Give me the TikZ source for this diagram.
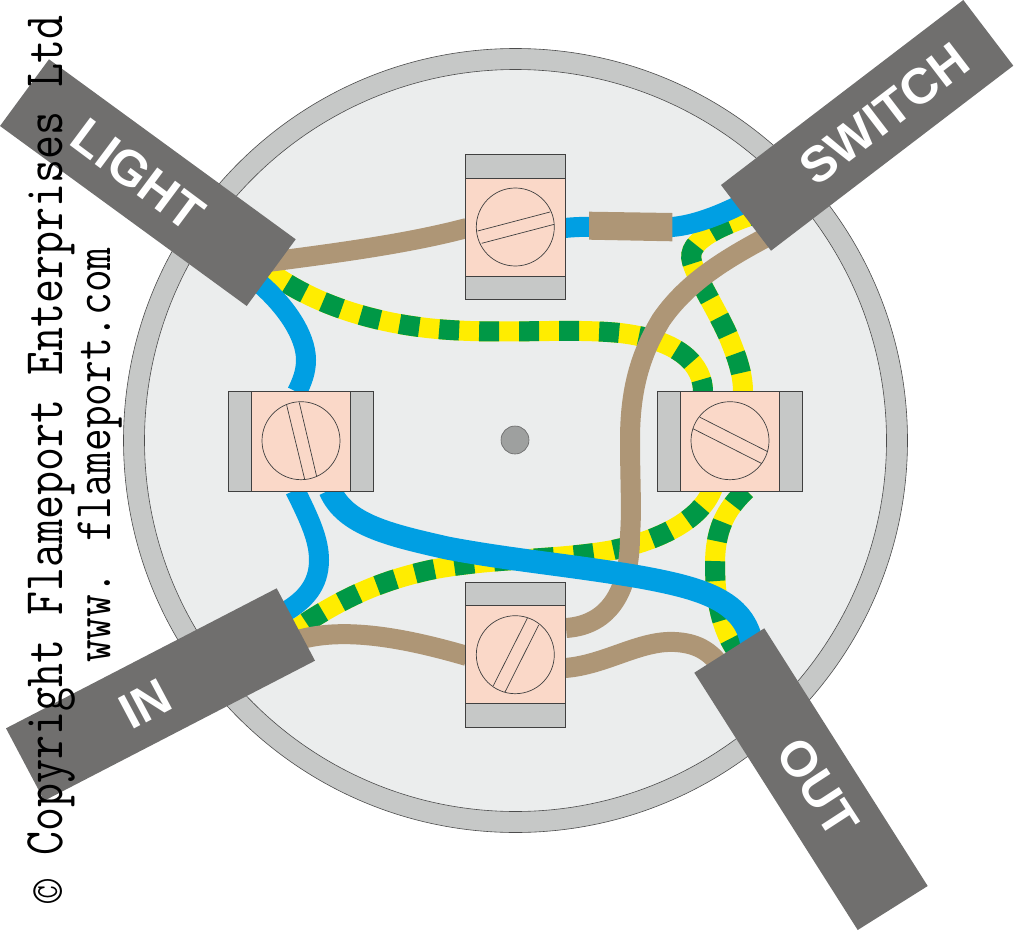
\documentclass[tikz,border=0pt]{standalone}
\usepackage{fontspec}
\usepackage{graphicx}
\setmainfont{Liberation Sans}
\definecolor{ringgrey}{HTML}{C6C8C7}
\definecolor{basegrey}{HTML}{EBEDED}
\definecolor{cablegrey}{HTML}{706F6E}
\definecolor{brasspink}{HTML}{FAD8C8}
\definecolor{linebrown}{HTML}{AE9676}
\definecolor{neutralblue}{HTML}{009FE3}
\definecolor{earthgreen}{HTML}{009846}
\definecolor{earthyellow}{HTML}{FFED00}
\tikzset{
    brownwire/.style={draw=linebrown, line width=20pt},
    bluewire/.style={draw=neutralblue, line width=20pt},
    earthwire/.style={draw=earthyellow, line width=20pt,
        postaction={draw=earthgreen, dash pattern=on 20pt off 20pt}},
    cable/.style={fill=cablegrey},
    cablelabel/.style={text=white, font=\bfseries\fontsize{50}{50}\selectfont},
    endcap/.style={fill=ringgrey, draw=black!75, line width=0.8pt},
    block/.style={fill=brasspink, draw=black!75, line width=0.8pt},
    screw/.style={draw=black!75, line width=0.7pt},
    copytext/.style={rotate=90, anchor=base west, inner sep=0pt}
}
\begin{document}
\begin{tikzpicture}[x=1pt, y=-1pt]
    \useasboundingbox (0,0) rectangle (1014,931);
    \clip (0,0) rectangle (1014,931);
    % box
    \filldraw[fill=ringgrey, draw=black!70, line width=0.6pt] (515.5,440.5) circle (392pt);
    \filldraw[fill=basegrey, draw=black!70, line width=0.6pt] (515.5,440.5) circle (371pt);
    \filldraw[fill=ringgrey!80!black, draw=black!60, line width=0.6pt] (515,440) circle (14pt);
    % earth wires
    \draw[earthwire] (255,260) .. controls (300,300) and (370,325) .. (450,330) .. controls (510,334) and (570,328) .. (620,333) .. controls (680,340) and (703,365) .. (703,392);
    \draw[earthwire] (767,210) .. controls (722,225) and (685,240) .. (692,262) .. controls (697,280) and (720,315) .. (730,340) .. controls (738,360) and (743,375) .. (743,392);
    \draw[earthwire] (716,470) -- (712,490) .. controls (700,520) and (660,540) .. (613,550) .. controls (560,560) and (490,558) .. (430,570) .. controls (385,580) and (345,595) .. (292,632);
    \draw[earthwire] (746,490) .. controls (725,510) and (715,530) .. (715,565) .. controls (715,600) and (722,630) .. (736,650);
    % live wires
    \draw[brownwire] (268,262) .. controls (345,252) and (410,243) .. (467,228);
    \draw[brownwire] (765,238) .. controls (720,262) and (685,285) .. (661,320) .. controls (640,355) and (630,390) .. (630,440) .. controls (630,480) and (632,510) .. (630,535) .. controls (630,590) and (610,625) .. (566,628);
    \draw[brownwire] (298,640) .. controls (340,628) and (395,635) .. (467,656);
    \draw[brownwire] (565,668) .. controls (605,665) and (640,640) .. (675,642) .. controls (695,643) and (710,650) .. (722,668);
    % neutral wires
    \draw[bluewire] (258,282) .. controls (285,305) and (306,335) .. (306,360) .. controls (306,372) and (302,382) .. (297,392);
    \draw[bluewire] (295,490) .. controls (310,520) and (319,540) .. (319,560) .. controls (319,585) and (305,600) .. (285,612);
    \draw[bluewire, line width=23pt] (330,490) .. controls (345,525) and (390,535) .. (447,548) .. controls (510,560) and (570,565) .. (640,577) .. controls (700,588) and (745,600) .. (752,645);
    \draw[bluewire] (565,228) .. controls (600,224) and (650,232) .. (672,227) .. controls (695,225) and (720,215) .. (742,204);
    \fill[linebrown] (589,211.7) -- (672.3,213) -- (672.3,241.3) -- (589,239.7) -- cycle;
    % terminals
    \foreach \yy/\ya/\yb/\yc/\yd in {0/154.5/178/276/299.5, 1/582.5/605.5/703.5/727}{
        \filldraw[endcap] (465.5,\ya) rectangle (565.5,\yb);
        \filldraw[endcap] (465.5,\yc) rectangle (565.5,\yd);
        \filldraw[block] (465.5,\yb) rectangle (565.5,\yc);
    }
    \foreach \xx/\xa/\xb/\xc/\xd in {0/228.5/251.5/350.5/373.5, 1/657.5/680.5/779.5/802.5}{
        \filldraw[endcap] (\xa,391) rectangle (\xb,491);
        \filldraw[endcap] (\xc,391) rectangle (\xd,491);
        \filldraw[block] (\xb,391) rectangle (\xc,491);
    }
    % screws
    \draw[screw] (515.3,227) circle (39pt) (477.7,231) -- (550,212) (481.7,243.3) -- (554.3,224.3);
    \draw[screw] (730,440.7) circle (39pt) (700,417.3) -- (767,451.3) (693,428.7) -- (761.3,463.3);
    \draw[screw] (301,440.7) circle (39pt) (286.7,405.3) -- (304.7,479.3) (299.3,402.7) -- (316.7,476.7);
    \draw[screw] (515.3,654.7) circle (39pt) (527.3,618.3) -- (493.3,685.7) (538.7,625) -- (505,692);
    % cables
    \fill[cable] (49,59.3) -- (295.7,239.3) -- (246.7,306) -- (0,126) -- cycle;
    \fill[cable] (963.3,0) -- (1013.3,65.7) -- (771,250.7) -- (721,185) -- cycle;
    \fill[cable] (276.7,588.3) -- (315,660.7) -- (44.3,800.7) -- (6,728.3) -- cycle;
    \fill[cable] (764.3,628.3) -- (927.7,886) -- (857.7,930) -- (694.3,672.7) -- cycle;
    \node[cablelabel, rotate=-36.7] (lightlabel) at (138,175) {LIGHT};
    \node[cablelabel, rotate=37.4] (switchlabel) at (884,114) {SWITCH};
    \node[cablelabel, rotate=28] (inlabel) at (145,704) {IN};
    \node[cablelabel, rotate=-57] (outlabel) at (818,787) {OUT};
    % copyright
    \node[copytext] (copyright) at (62,903.5) {\scalebox{1}[1.2]{\ttfamily\fontsize{46.6}{47}\selectfont © Copyright Flameport Enterprises Ltd}};
    \node[copytext] (website) at (110,663) {\scalebox{1}[1.2]{\ttfamily\fontsize{44}{44}\selectfont www. flameport.com}};
\end{tikzpicture}
\end{document}
